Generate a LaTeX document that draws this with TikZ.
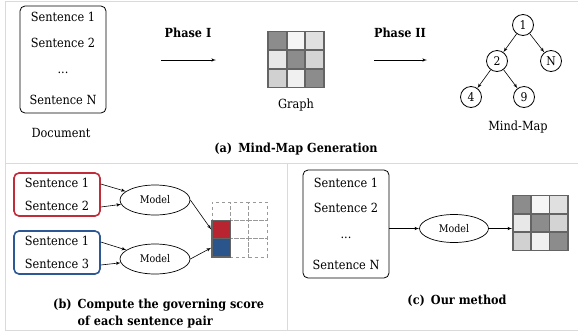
\documentclass[tikz,border=0pt]{standalone}
\usepackage{fontspec}
\setmainfont{DejaVu Serif Condensed}
\usetikzlibrary{shapes,arrows}
\definecolor{boxred}{RGB}{192,44,56}
\definecolor{boxblue}{RGB}{44,88,150}
\definecolor{cellred}{RGB}{184,36,48}
\definecolor{cellblue}{RGB}{42,84,140}
\definecolor{panel}{RGB}{218,218,218}
\definecolor{gridline}{RGB}{100,100,100}
\tikzstyle{doc} = [rectangle, draw, rounded corners=5pt, line width=0.8pt]
\tikzstyle{pairbox} = [rectangle, draw, rounded corners=5pt, line width=1.6pt, minimum width=86, minimum height=43]
\tikzstyle{sent} = [font=\fontsize{12.6}{15}\selectfont, inner sep=0pt, text height=9.5pt, text depth=3pt]
\tikzstyle{model} = [draw, ellipse, line width=0.7pt, minimum width=70, minimum height=30, inner sep=0pt, font=\fontsize{10.6}{13}\selectfont]
\tikzstyle{leaf} = [draw, circle, line width=0.8pt, minimum size=21, inner sep=0pt, font=\fontsize{12}{13}\selectfont]
\tikzstyle{line} = [draw, line width=0.6pt, -latex']
\tikzstyle{cell} = [rectangle, draw=gridline, line width=1.6pt, minimum size=18.5, inner sep=0pt]
\tikzstyle{dcell} = [rectangle, draw=gray!80, dashed, line width=0.7pt, minimum size=18.3, inner sep=0pt]
\tikzstyle{caption} = [font=\bfseries\fontsize{12.5}{15}\selectfont, inner sep=0pt]
\tikzstyle{label} = [font=\fontsize{12.6}{15}\selectfont, inner sep=0pt]
\begin{document}
\begin{tikzpicture}[x=1pt, y=-1pt, auto]
      \useasboundingbox (0,0) rectangle (578,333);
      % Panel frames
      \draw[panel, line width=0.9pt] (578,1) -- (5,1) -- (5,330) -- (578,330);
      \draw[panel, line width=0.9pt] (5,163) -- (578,163);
      \draw[panel, line width=0.9pt] (287,163) -- (287,330);

      % (a) Mind-Map Generation
      \node [doc, minimum width=86, minimum height=107] (doc) at (63,59.5) {};
      \node [sent] (d1) at (63,18) {Sentence 1};
      \node [sent] (d2) at (63,44) {Sentence 2};
      \node [sent] (d3) at (63,70) {...};
      \node [sent] (dN) at (63,101) {Sentence N};
      \node [label] (docname) at (61,133) {Document};

      \node [caption] (phone) at (188,33) {Phase I};
      \coordinate (phoneS) at (161,60);
      \coordinate (phoneE) at (216,60);
      \path [line] (phoneS) -- (phoneE);

      \foreach \r/\c/\s in {1/1/45,1/2/4,1/3/12,2/1/9,2/2/45,2/3/17,3/1/18,3/2/6,3/3/45}
        \node [cell, fill=black!\s] (g-\r-\c) at ({296+(\c-2)*18.6},{59.5+(\r-2)*18.6}) {};
      \node [label] (graphname) at (296,105) {Graph};

      \node [caption] (phtwo) at (400,33) {Phase II};
      \coordinate (phtwoS) at (374,60);
      \coordinate (phtwoE) at (427,60);
      \path [line] (phtwoS) -- (phtwoE);

      \node [leaf] (n1) at (523,25) {1};
      \node [leaf] (n2) at (497,61) {2};
      \node [leaf] (nN) at (551,61) {N};
      \node [leaf] (n4) at (471,97) {4};
      \node [leaf] (n9) at (524,97) {9};
      \node [label] (mapname) at (518,127) {Mind-Map};
      \path [line] (n1) -- (n2);
      \path [line] (n1) -- (nN);
      \path [line] (n2) -- (n4);
      \path [line] (n2) -- (n9);

      \node [caption] (capa) at (296,149) {(a)\hspace{6pt}Mind-Map Generation};

      % (b) governing score
      \node [pairbox, draw=boxred] (redbox) at (57,194.5) {};
      \node [sent] (r1) at (57,184) {Sentence 1};
      \node [sent] (r2) at (57,207) {Sentence 2};
      \node [pairbox, draw=boxblue] (bluebox) at (57,252.5) {};
      \node [sent] (b1) at (57,242) {Sentence 1};
      \node [sent] (b3) at (57,265) {Sentence 3};
      \node [model] (mone) at (155,200) {Model};
      \node [model] (mtwo) at (155,259) {Model};

      \foreach \r in {1,2,3}
        \foreach \c in {1,2,3}
          \node [dcell] (s-\r-\c) at ({239.5+(\c-2)*18.3},{229.5+(\r-2)*18.3}) {};
      \node [cell, fill=cellred, minimum size=18.3] (red) at (s-2-1) {};
      \node [cell, fill=cellblue, minimum size=18.3] (blue) at (s-3-1) {};

      \path [line] (redbox.east |- r1) -- (mone);
      \path [line] (redbox.east |- r2) -- (mone);
      \path [line] (bluebox.east |- b1) -- (mtwo);
      \path [line] (bluebox.east |- b3) -- (mtwo);
      \path [line] (mone.east) -- (red.west);
      \path [line] (mtwo.east) -- (blue.west);

      \node [caption, anchor=north west] (capb) at (53,297.5) {(b)\hspace{6pt}\begin{tabular}[t]{@{}l@{}}Compute the governing score\\[2pt] of each sentence pair\end{tabular}};

      % (c) Our method
      \node [doc, minimum width=86, minimum height=108] (obox) at (346,224) {};
      \node [sent] (o1) at (346,184) {Sentence 1};
      \node [sent] (o2) at (346,209) {Sentence 2};
      \node [sent] (o3) at (346,235) {...};
      \node [sent] (oN) at (346,266) {Sentence N};
      \node [model, minimum width=69, minimum height=28] (om) at (454,228.5) {Model};
      \foreach \r/\c/\s in {1/1/45,1/2/4,1/3/12,2/1/9,2/2/45,2/3/17,3/1/18,3/2/6,3/3/45}
        \node [cell, fill=black!\s] (m-\r-\c) at ({540.5+(\c-2)*18.3},{223+(\r-2)*18.3}) {};
      \path [line] (obox.east |- om) -- (om);
      \path [line] (om) -- (om -| m-2-1.west);

      \node [caption] (capc) at (457,300.5) {(c)\hspace{6pt}Our method};
\end{tikzpicture}
\end{document}
